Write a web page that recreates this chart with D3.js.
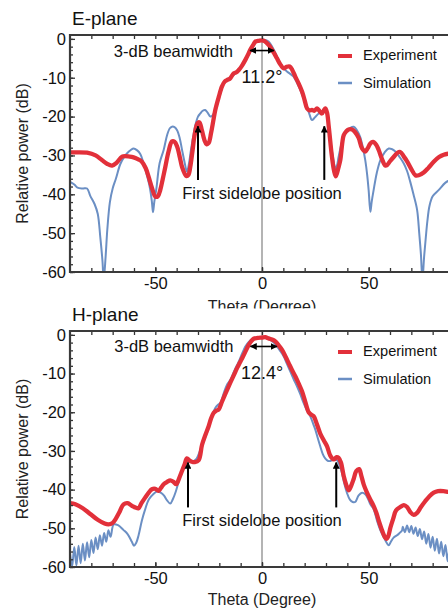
<!DOCTYPE html>
<html>
<head>
<meta charset="utf-8">
<script src="https://cdn.jsdelivr.net/npm/d3@7"></script>
<style>
	body { margin: 0; background: #fff; }
	svg { display: block; font-family: "Liberation Sans", Arial, sans-serif; }
</style>
</head>
<body>
<svg id="chart" width="448" height="610"></svg>
<script>
'use strict'

// [theta (degree), relative power (dB)]
let e_experiment = [
	[-90,-29.2],[-87.5,-29.2],[-82,-29.3],[-78,-30],[-75.2,-31.1],[-72.5,-32.2],[-70.3,-32.6],[-68,-31.8],
	[-65.6,-30.3],[-62,-30.3],[-60.2,-30.5],[-58,-31],[-56.3,-31.6],[-54.5,-33.3],[-53.2,-35.4],[-51.5,-38.5],
	[-50,-40.6],[-48.8,-40.5],[-47.7,-38.9],[-46.5,-36],[-45.3,-32.9],[-43.8,-29],[-42.2,-26.4],[-41,-26.5],
	[-39.8,-27.7],[-38.5,-30.5],[-37.5,-32.9],[-35.5,-35.3],[-34.5,-35],[-33.6,-32.9],[-32.5,-28.5],[-31.7,-25.1],
	[-30.2,-21.7],[-29.3,-21.5],[-28.2,-23.5],[-27,-26],[-26,-27.1],[-25,-26.8],[-23.9,-24.3],[-22.8,-21],
	[-21.9,-18.3],[-20.3,-15],[-18.8,-12.3],[-17.5,-11],[-16.4,-10.6],[-15,-10.2],[-13.3,-8.9],[-12,-8.6],
	[-10.9,-8],[-9.5,-7],[-7.8,-5.4],[-6.5,-4],[-5.5,-2.8],[-4.2,-1.6],[-3.1,-0.7],[-1.5,-0.5],[0,-0.4],
	[1.2,-0.6],[2.3,-1.1],[3.5,-1.8],[4.7,-2.8],[5.8,-3.8],[7,-5],[8.5,-6.5],[10.2,-7.6],[11.5,-7.2],[13,-7.1],
	[14.2,-8],[15.6,-9.7],[17.2,-11.5],[18.8,-13.6],[20,-15.8],[21.1,-17.9],[22.2,-18.4],[23.4,-18.3],
	[24.6,-18.5],[25.8,-17.9],[27,-18.6],[28.1,-19.2],[29.1,-18.3],[29.7,-17.9],[30.5,-19],[31.3,-22.6],
	[32.8,-30.4],[33.8,-34],[34.6,-35.4],[35.9,-33],[36.7,-31.2],[38.3,-24.8],[39.5,-23.8],[40.6,-23.3],
	[42.2,-23.3],[43.5,-23.9],[45.3,-25.5],[46.9,-28.2],[48.4,-29],[49.5,-28.2],[50.8,-26.9],[52,-26.5],
	[53.6,-27.3],[54.7,-28.6],[56.3,-31],[57.8,-32.6],[58.6,-32.5],[60,-31.5],[61.7,-30.4],[63.5,-29.3],
	[64.8,-29.1],[66.5,-30.3],[68,-31.5],[70,-33.5],[71.9,-35.1],[73.5,-35.1],[75.8,-34.4],[78,-33.2],
	[80.5,-31.6],[83,-30.4],[85.2,-29.8],[88,-29.5],[90,-29.4]
]

let e_simulation = [
	[-90,-36.8],[-88,-37.5],[-86.5,-38.3],[-84,-38.5],[-82,-38.5],[-80.5,-40.4],[-78.5,-42.5],[-77,-45],
	[-75.8,-51],[-74.8,-57],[-74.2,-62],[-73.3,-56],[-72.5,-49],[-71.3,-42],[-70,-38.5],[-68.5,-36],
	[-66.4,-32.2],[-64.5,-30.3],[-63,-29.3],[-61.5,-28.6],[-60.2,-28.2],[-58.5,-28.7],[-57,-29.7],[-55.5,-32],
	[-53.9,-35.2],[-52.5,-38.5],[-51.6,-42],[-51.1,-44.6],[-50.5,-42],[-49.5,-38.5],[-48,-32],[-46.1,-28.6],
	[-44.5,-24.8],[-43.2,-23],[-42.2,-22.6],[-41,-22.7],[-39.8,-23.5],[-38.6,-25.5],[-37.5,-28.5],[-36.2,-32],
	[-35.2,-34.2],[-34.2,-32],[-33.3,-28.6],[-32.2,-25],[-31.3,-22.3],[-30,-20],[-28.9,-19.2],[-27.8,-18.5],
	[-26.6,-18.3],[-25.5,-19],[-24.2,-20],[-23,-19.6],[-21.9,-18.3],[-20.3,-15.5],[-18.75,-12.7],[-17.5,-11],
	[-16.4,-10.4],[-15,-10],[-13.3,-9.3],[-11.7,-8.5],[-10.2,-7.6],[-8.2,-5.8],[-6.25,-4.1],[-4.7,-2.5],
	[-3.1,-0.9],[-1.5,-0.4],[0,-0.26],[1.5,-0.3],[3.1,-0.7],[4.3,-1.6],[5.5,-2.8],[7,-4.5],[8.6,-6.3],
	[10.2,-7.6],[11.7,-8.4],[13.2,-9],[14.8,-9.7],[16.4,-11.3],[18,-13.2],[19.5,-15.3],[21.1,-17.5],
	[22.3,-19.5],[23.4,-20.9],[24.8,-20.2],[26.6,-19.2],[28.2,-18.8],[29.7,-18.3],[30.8,-21],[32,-26],
	[33.3,-30.5],[34.4,-33.4],[35.2,-32.5],[35.9,-30.4],[37.5,-26.5],[39,-23.9],[41,-23],[43,-22.6],
	[44.5,-23.5],[46,-25.2],[47.3,-28],[48.4,-31.2],[49.3,-35],[50,-39],[50.8,-44.5],[51.4,-42],[52.3,-39],
	[53.8,-34.5],[55.5,-31.2],[57.5,-29.2],[59.4,-28.2],[61,-28.4],[62.5,-29],[64.5,-30.4],[66.4,-32],
	[68,-34],[69.5,-36.8],[71,-40],[72.7,-44],[73.7,-50],[74.5,-55.5],[75.2,-62],[76,-56],[76.8,-51],
	[77.5,-47],[78.5,-43],[80,-40.5],[83,-38.8],[86,-37],[90,-35.8]
]

let h_experiment = [
	[-90,-43.5],[-87.5,-43.8],[-84,-44.8],[-80.5,-46.3],[-77,-47.8],[-74,-48.7],[-72,-49],[-70,-48.6],
	[-68.5,-47.5],[-67,-46],[-64.9,-43.8],[-63,-43.5],[-61,-44.2],[-59,-44.7],[-57.9,-44.8],[-56.5,-43.5],
	[-54.7,-42],[-53,-40.7],[-51.6,-39.9],[-50,-39.8],[-48.5,-40.3],[-47.3,-39.5],[-46.1,-38.6],[-44.5,-38],
	[-43,-37.6],[-41.5,-38],[-40.2,-38.6],[-38.8,-37],[-37.5,-35.2],[-36.3,-33.5],[-35.2,-31.9],[-34,-32.5],
	[-32.9,-32.8],[-31.5,-32.9],[-29.7,-32.4],[-28.1,-28.4],[-26.5,-25.8],[-25,-23.6],[-23.8,-21.5],
	[-22.7,-20.2],[-21.5,-19.6],[-20.3,-19.3],[-19,-17.6],[-17.7,-15.9],[-16.2,-14],[-14.8,-12.3],
	[-13.2,-10.4],[-11.7,-8.6],[-10.3,-7.1],[-8.9,-5.6],[-7.5,-4],[-6.25,-2.6],[-5,-1.6],[-3.9,-1],[-2,-0.8],
	[0,-0.7],[1.5,-0.6],[3.1,-0.9],[4.7,-1.2],[6.25,-1.7],[7.8,-2.7],[9.4,-3.9],[11,-5.6],[12.5,-7.3],[14,-9],
	[15.6,-10.7],[17.2,-12.6],[18.75,-14.6],[20.3,-17.3],[21.9,-20],[23,-20.6],[24.2,-21],[25.8,-23.2],
	[27.3,-25.5],[29,-27.3],[30.5,-28.8],[32,-31.2],[33.6,-32.2],[35,-31.6],[35.9,-31.8],[37,-33],[38.3,-36.5],
	[39.5,-38.8],[40.6,-40.2],[41.8,-39],[43,-37.2],[44.2,-35.2],[45.5,-34.7],[46.6,-36.5],[47.7,-38.7],
	[49,-40.5],[50.8,-42.6],[52.3,-44.2],[53.6,-46],[55,-48.5],[56.3,-50.6],[57.5,-52.2],[58.3,-52.7],
	[59.2,-52],[60.2,-49.8],[61.5,-47.5],[62.8,-45.4],[64.8,-44.5],[66.5,-44],[68,-44.5],[69.5,-45.8],
	[71.1,-46.5],[72.7,-46],[74.5,-44.5],[76.5,-43],[78.5,-41.7],[80.5,-40.8],[82.5,-40.4],[85.1,-40.4],
	[87.5,-40.6],[90,-40.7]
]

let h_simulation = [
	[-90,-56.5],[-89,-59.8],[-88,-54.8],[-87,-59.6],[-86,-54.5],[-85,-59],[-84,-54],[-83,-58.3],[-82,-53.6],
	[-81,-57.5],[-80,-53],[-79,-56.4],[-78,-52.4],[-77,-55.4],[-76,-51.8],[-75,-54.5],[-74,-51.2],[-73,-53.5],
	[-72,-50.5],[-71,-52.2],[-69.5,-49],[-67.5,-49.2],[-65,-50.4],[-63,-51.5],[-61,-53.5],[-60,-54.5],
	[-59,-53.8],[-57.9,-51.9],[-56.3,-48],[-55,-45.5],[-53,-42.5],[-51,-41.2],[-49.2,-40.5],[-47.5,-40.8],
	[-46,-41.5],[-44.5,-42.8],[-43,-43.6],[-41.8,-42.5],[-40.4,-40.5],[-39,-37.8],[-37.5,-35.2],[-36.2,-33],
	[-35.2,-31.9],[-34,-32.3],[-32.9,-32.7],[-31,-32.2],[-28.9,-29.7],[-27,-27],[-25,-24],[-23.5,-21],
	[-21.9,-18.9],[-20.5,-18],[-19.5,-17.6],[-18,-15.2],[-16.5,-13],[-14.8,-11.6],[-13,-9.3],[-10.9,-6.9],
	[-9.3,-4.8],[-7.8,-3],[-6.2,-1.8],[-4.7,-1.1],[-2.5,-0.7],[0,-0.6],[2,-0.8],[3.9,-1.3],[5.5,-2],[7,-3],
	[8.6,-4.2],[10.2,-5.6],[11.7,-7.5],[13.3,-9.5],[14.8,-11.4],[16.4,-13.3],[18,-15.4],[19.5,-17.6],
	[21,-19.5],[22.6,-21],[24,-23],[25,-24.5],[26.2,-26.8],[27.3,-28.8],[28.5,-30.8],[29.7,-32],[31,-32.6],
	[32,-32.6],[33.5,-32.3],[35.2,-32.4],[36.5,-34],[37.5,-35.7],[38.6,-38.5],[39.8,-40.8],[41.2,-42.6],
	[42.5,-43.2],[43.7,-43.2],[45.3,-41.5],[46.9,-40.8],[48.4,-41.2],[49.8,-42.5],[50.8,-43.8],[52.3,-45],
	[53.9,-48],[55.5,-50.5],[57,-52.2],[58.5,-53.8],[59.4,-54.4],[60.3,-53.6],[61.7,-52.4],[63.3,-51.8],
	[64.5,-51.2],[65.6,-50.6],[66,-49.6],[67,-51],[68,-49.3],[69,-51],[70,-49.4],[71,-51.4],[72,-49.8],
	[73,-52],[74,-50.2],[75,-52.8],[76,-50.8],[77,-54],[78,-51.5],[79,-55],[80,-52.2],[81,-55.8],[82,-52.7],
	[83,-56.5],[84,-53.5],[85,-57.2],[86,-54.3],[87,-58.5],[88,-55],[89,-59.3],[90,-56]
]

let panel_titles = ['E-plane', 'H-plane']
let series_names = ['Experiment', 'Simulation']
let y_ticks = [0, -10, -20, -30, -40, -50, -60]
let x_ticks = [-50, 0, 50]
let beamwidths = [11.2, 12.4]
let beam_centers = [0, 0.8]
let sidelobe_positions = [[-30, 29.2], [-34.7, 34.8]]
let sidelobe_arrow_db = [[-22.5, -36.3], [-33, -44.6]]

let red = '#e2303a'
let blue = '#6b8fc4'

function wrapper(){
	let svg = d3.select('#chart')
	let defs = svg.append('defs')

	defs.append('marker').attr('id', 'head')
		.attr('viewBox', '0 0 10 10').attr('refX', 9).attr('refY', 5)
		.attr('markerUnits', 'userSpaceOnUse')
		.attr('markerWidth', 7).attr('markerHeight', 7)
		.attr('orient', 'auto-start-reverse')
		.append('path').attr('d', 'M0,0 L10,5 L0,10 z').attr('fill', '#000')

	let panels = [
		{top: 35, bottom: 272, exp: e_experiment, sim: e_simulation},
		{top: 331, bottom: 567, exp: h_experiment, sim: h_simulation}
	]

	// plain hyphen for negative numbers, like the original
	let num = function(d){ return String(d) }

	panels.forEach(function(p, idx){
		let g = svg.append('g')

		// second figure sits on top of the first one's x label
		if (idx == 1){
			g.append('rect').attr('x', 0).attr('y', 308.5).attr('width', 448).attr('height', 302).attr('fill', '#fff')
		}

		let xScale = d3.scaleLinear().domain([-90, 90]).range([70, 454])
		let yScale = d3.scaleLinear().domain([-60, 1]).range([p.bottom, p.top])

		defs.append('clipPath').attr('id', 'clip' + idx)
			.append('rect').attr('x', 70).attr('y', p.top).attr('width', 384).attr('height', p.bottom - p.top)

		// zero line
		g.append('line')
			.attr('x1', xScale(0)).attr('x2', xScale(0))
			.attr('y1', p.top).attr('y2', p.bottom)
			.attr('stroke', '#b4b4b4').attr('stroke-width', 2)

		let line = d3.line()
			.x(function(d){ return xScale(d[0]) })
			.y(function(d){ return yScale(d[1]) })
			.curve(d3.curveCatmullRom)

		let curves = g.append('g').attr('clip-path', 'url(#clip' + idx + ')')
		curves.append('path').datum(p.sim)
			.attr('fill', 'none').attr('stroke', blue).attr('stroke-width', 2).attr('stroke-linejoin', 'round')
			.attr('d', line)
		curves.append('path').datum(p.exp)
			.attr('fill', 'none').attr('stroke', red).attr('stroke-width', 4.3).attr('stroke-linejoin', 'round')
			.attr('d', line)

		// axes, ticks pointing inside
		let tick_style = function(a){
			a.select('.domain').remove()
			a.selectAll('line').attr('stroke', '#333').attr('stroke-width', 1.3)
			a.selectAll('text').attr('fill', '#111').style('font-size', '16.5px').style('font-family', '"Liberation Sans", Arial, sans-serif')
		}
		g.append('g').attr('transform', 'translate(70,0)')
			.call(d3.axisLeft(yScale).tickValues(d3.range(-60, 1, 2)).tickSize(-3).tickFormat(''))
			.call(tick_style)
		g.append('g').attr('transform', 'translate(70,0)')
			.call(d3.axisLeft(yScale).tickValues(y_ticks).tickSize(-5).tickPadding(4).tickFormat(num))
			.call(tick_style)
		g.append('g').attr('transform', 'translate(0,' + p.top + ')')
			.call(d3.axisTop(xScale).tickValues(d3.range(-80, 91, 10)).tickSize(-4).tickFormat(''))
			.call(tick_style)
		g.append('g').attr('transform', 'translate(0,' + p.bottom + ')')
			.call(d3.axisBottom(xScale).tickValues(d3.range(-80, 91, 10)).tickSize(-4).tickFormat(''))
			.call(tick_style)
		g.append('g').attr('transform', 'translate(0,' + p.bottom + ')')
			.call(d3.axisBottom(xScale).tickValues(x_ticks).tickSize(-5).tickPadding(5.5).tickFormat(num))
			.call(tick_style)

		// frame
		g.append('path')
			.attr('d', 'M454,' + p.top + 'H70V' + p.bottom + 'H454')
			.attr('fill', 'none').attr('stroke', '#3a3a3a').attr('stroke-width', 2.2)

		// titles
		g.append('text').text(panel_titles[idx])
			.attr('x', 72).attr('y', p.top - 10)
			.style('font-size', '19px').attr('fill', '#111')
		g.append('text').text('Relative power (dB)')
			.attr('transform', 'translate(22,' + ((p.top + p.bottom) / 2) + ') rotate(-90)')
			.attr('text-anchor', 'middle').attr('dominant-baseline', 'central')
			.style('font-size', '16px').attr('fill', '#222')
		g.append('text').text('Theta (Degree)')
			.attr('x', xScale(0)).attr('y', p.bottom + (idx == 0 ? 40 : 38))
			.attr('text-anchor', 'middle')
			.style('font-size', '16px').attr('fill', '#222')

		// legend
		let lx = 338
		series_names.forEach(function(name, i){
			let ly = p.top + 21 + i * 27
			g.append('line').attr('x1', lx).attr('x2', lx + 14).attr('y1', ly).attr('y2', ly)
				.attr('stroke', i == 0 ? red : blue).attr('stroke-width', i == 0 ? 4 : 2.5)
			g.append('text').text(name)
				.attr('x', lx + 25).attr('y', ly + 3.5 + i * 1.5)
				.style('font-size', '14.6px').attr('fill', '#111')
		})

		// 3-dB beamwidth
		let bw = beamwidths[idx], bc = beam_centers[idx]
		let by = yScale(-3)
		g.append('line')
			.attr('x1', xScale(bc - bw / 2)).attr('x2', xScale(bc + bw / 2))
			.attr('y1', by).attr('y2', by)
			.attr('stroke', '#000').attr('stroke-width', 1.6)
			.attr('marker-start', 'url(#head)').attr('marker-end', 'url(#head)')
		g.append('text').text('3-dB beamwidth')
			.attr('x', xScale(bc - bw / 2) - 17).attr('y', by + 6)
			.attr('text-anchor', 'end')
			.style('font-size', '16.5px').attr('fill', '#111')
		g.append('text').text(d3.format('.1f')(bw) + '°')
			.attr('x', xScale(0)).attr('y', by + 32.5)
			.attr('text-anchor', 'middle')
			.style('font-size', '18px').attr('fill', '#111')

		// first sidelobe arrows
		let adb = sidelobe_arrow_db[idx]
		sidelobe_positions[idx].forEach(function(t){
			g.append('line')
				.attr('x1', xScale(t)).attr('x2', xScale(t))
				.attr('y1', yScale(adb[1])).attr('y2', yScale(adb[0]))
				.attr('stroke', '#000').attr('stroke-width', 2)
				.attr('marker-end', 'url(#head)')
		})
		g.append('text').text('First sidelobe position')
			.attr('x', xScale(0)).attr('y', yScale(adb[1]) + 19)
			.attr('text-anchor', 'middle')
			.style('font-size', '16.5px').attr('fill', '#111')
	})
}

wrapper()
</script>
</body>
</html>
